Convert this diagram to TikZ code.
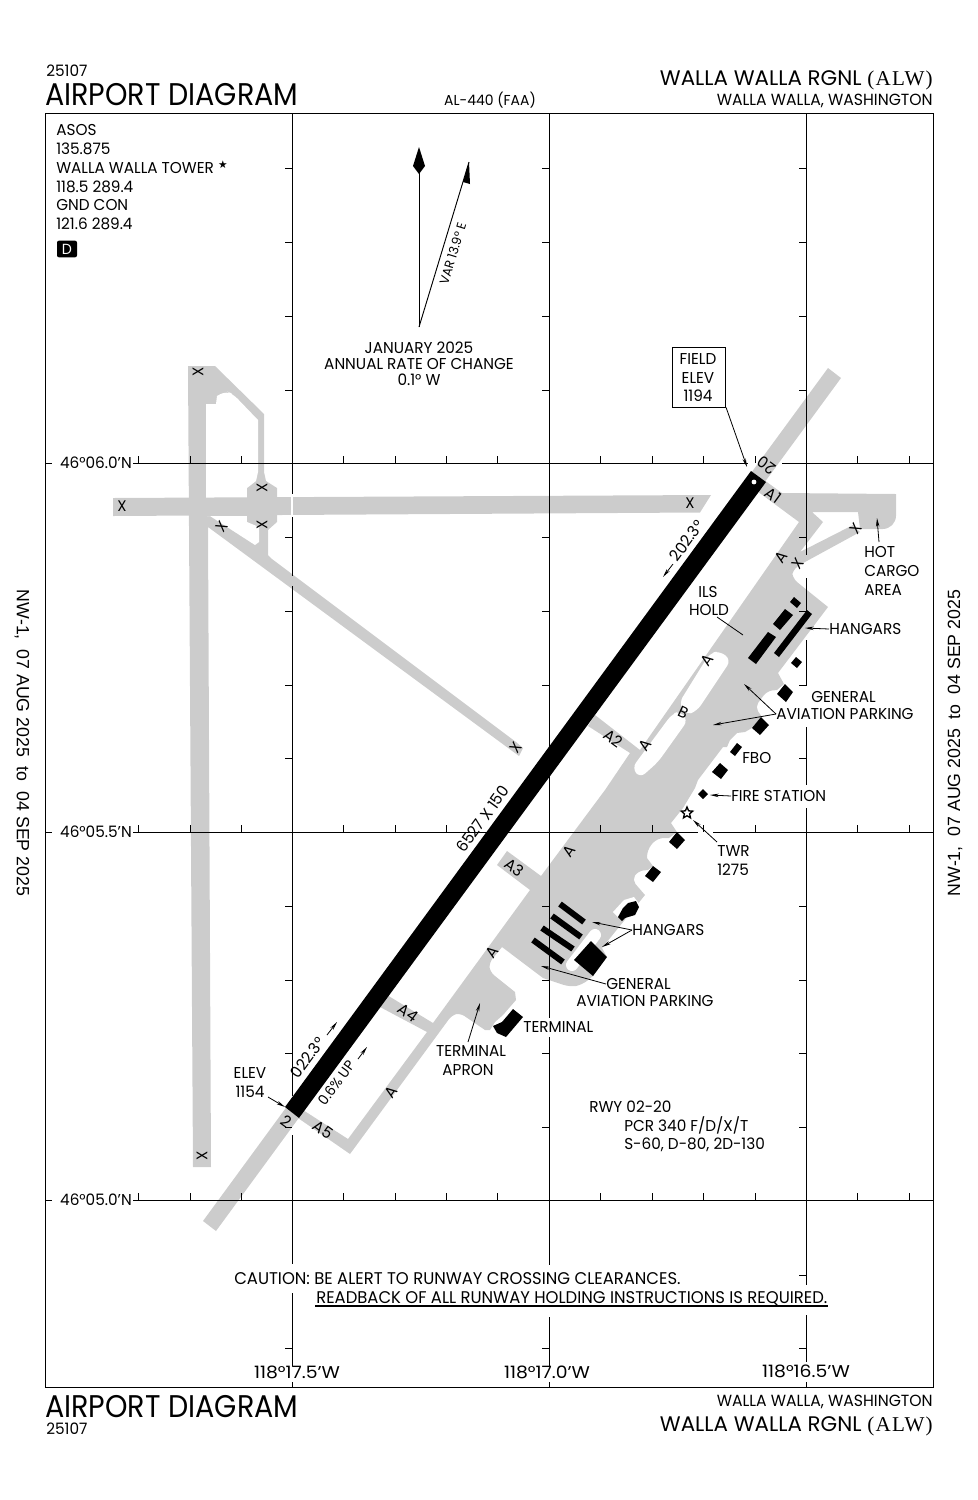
\documentclass[tikz,border=0pt]{standalone}
\usepackage{fontspec}
\usetikzlibrary{arrows.meta,shapes.geometric}
\setmainfont{Poppins}[FakeStretch=0.97]
\newfontfamily\titlefont{Poppins}[FakeStretch=0.912]
\newfontfamily\namefont{Poppins}[FakeStretch=1.015]
\newfontfamily\lonfont{Poppins}[FakeStretch=1.1]
\newfontfamily\serifalw{Liberation Serif}[LetterSpace=6]
\newfontfamily\sanslat{Liberation Sans}
\newfontfamily\dejavu{DejaVu Sans}
\definecolor{pave}{gray}{0.8}
\tikzset{
 gridline/.style={line width=0.75pt,black},
 tick/.style={line width=0.65pt,black},
 paved/.style={fill=pave,draw=none},
 bldg/.style={fill=black,draw=none},
 islet/.style={fill=white,draw=none,rounded corners=5pt},
 lab/.style={font=\fontsize{11.8}{13}\selectfont,inner sep=0pt,text height=8pt,text depth=0pt},
 citylab/.style={font=\fontsize{12.1}{13}\selectfont,inner sep=0pt,text height=8pt,text depth=0pt},
 lonlab/.style={font=\lonfont\fontsize{12.8}{14}\selectfont,inner sep=0pt,text height=8.6pt,text depth=0pt},
 cautionlab/.style={font=\fontsize{12.7}{14}\selectfont,inner sep=0pt,text height=9pt,text depth=0pt},
 small/.style={font=\fontsize{11.8}{13}\selectfont,inner sep=0pt,text height=8pt,text depth=0pt},
 title/.style={font=\titlefont\fontsize{23.5}{26}\selectfont,inner sep=0pt,text height=16.2pt,text depth=0pt},
 rwyname/.style={font=\namefont\fontsize{15.8}{18}\selectfont,inner sep=0pt,text height=11pt,text depth=0pt},
 xm/.style={font=\fontsize{11.5}{13}\selectfont,inner sep=0pt},
 leader/.style={line width=0.6pt,-{Stealth[length=6.5pt,width=2.6pt]}},
 plainleader/.style={line width=0.6pt},
 side/.style={font=\sanslat\fontsize{13.3}{15}\selectfont,inner sep=0pt},
}
\begin{document}
\begin{tikzpicture}[x=0.75pt,y=-0.75pt]
\useasboundingbox (0,0) rectangle (978,1500);
% ---------- paved surfaces
\fill[paved] (828,368) -- (841,378) -- (216,1231) -- (203,1221) -- cycle;
% west taxiway system
\fill[paved] (188,366) -- (215,366) -- (264,414) -- (264,472) -- (266,481) -- (277,488) -- (277,522) -- (268,530) -- (268,555) -- (272,559)
  -- (516,742) -- (523,748) -- (519,756) -- (208,527) -- (211,1167) -- (193,1167) -- cycle;
\fill[white] (206,404) -- (216,404) -- (217,396) [rounded corners=5pt] -- (226,391) -- (233,394) [sharp corners] -- (258,420) -- (258,472) -- (256,481) -- (247,488) -- (247,498) -- (206,498) -- cycle;
\fill[white] (207,516) -- (247,516) -- (247,522) -- (259,527) -- (259,542) -- (255,545) -- (210,516) -- cycle;
\fill[paved] (113,498) -- (711,495) -- (700,512.5) -- (113,516) -- cycle;
\fill[paved] (247,488) rectangle (277,522);
\fill[white] (291,494) rectangle (293,517);
% main apron and taxiways
\fill[paved] (764,480) -- (782,493) -- (896,494) [rounded corners=10pt] -- (896,529) [sharp corners] -- (860,529) -- (858,512) -- (812,512) -- (823,522)
 -- (800,552) -- (853,525) -- (860,532) -- (805,562) [rounded corners=5pt] -- (792,570) -- (792,578) [sharp corners] -- (828,607) -- (778,673)
 -- (784,684) -- (777,690) [rounded corners=4pt] -- (767,691) -- (755,707) [sharp corners] -- (762,717) -- (752,728) -- (745,732) -- (737,733) -- (730,740) -- (727,747)
 -- (723,747) -- (698,780) -- (695,788) -- (683,808) -- (671,823) -- (677,832) -- (669,838) [rounded corners=5pt] -- (657,838) -- (647,850) [sharp corners] -- (647,858) -- (653,866)
 -- (648,870) [rounded corners=4pt] -- (638,871) -- (632,880) [sharp corners] -- (645,895) -- (602,948) -- (607,957) -- (593,976) [rounded corners=5pt] -- (582,985) -- (570,987) [sharp corners]
 -- (543,978) -- (502,947) [rounded corners=4pt] -- (489,963) -- (490,972) [sharp corners] -- (515,992) -- (516,1000) -- (503,1015) -- (495,1022) -- (490,1030) -- (485,1030) [rounded corners=4pt] -- (460,1013) -- (452,1015) [sharp corners]
 -- (350,1154) -- (298,1118) -- (303,1110) -- (348,1139) -- (427,1032) -- (380,1007) -- (387,995) -- (433,1023) -- (530,890) -- (497,865) -- (507,851) -- (541,876)
 -- (605,790) -- (630,753) -- (588,726) -- (595,715) -- (640,750) -- (799,522) -- (757,491) -- cycle;
% white islands
\fill[islet] (710,653) -- (720,651) -- (731,660) -- (697,711) -- (686,715) -- (679,703) -- cycle;
\fill[islet] (672,714) -- (680,711) -- (688,720) -- (658,762) -- (640,778) -- (632,768) -- cycle;
\draw[white,line width=9pt,line cap=round] (572,965) -- (595,935);
\fill[white] (613,912) -- (624,900) -- (634,897) -- (640,905) -- (622,921) -- cycle;
% ---------- graticule
\draw[gridline] (45,113) rectangle (933,1387);
\draw[gridline] (292,113) -- (292,494) (292,517) -- (292,576) (292,586) -- (292,1096) (292,1135) -- (292,1264) (292,1293) -- (292,1366) (292,1382) -- (292,1387);
\draw[gridline] (549,113) -- (549,1018) (549,1037) -- (549,1265) (549,1317) -- (549,1366) (549,1382) -- (549,1387);
\draw[gridline] (806,113) -- (806,555) (806,578) -- (806,617) (806,640) -- (806,686) (806,727) -- (806,785) (806,808) -- (806,1285) (806,1315) -- (806,1362) (806,1382) -- (806,1387);
\draw[gridline] (45,463) -- (52,463) (133,463) -- (748,463) (782,463) -- (933,463);
\draw[gridline] (45,832) -- (52,832) (133,832) -- (698,832) (713,832) -- (933,832);
\draw[gridline] (45,1200) -- (52,1200) (133,1200) -- (933,1200);
\foreach \gx in {292,549,806}
  \foreach \gy in {168,242,316,390,537,611,685,758,906,980,1053,1127,1348}
    \draw[tick] (\gx-7,\gy) -- (\gx,\gy);
\draw[tick] (799,1275) -- (806,1275);
\foreach \gy in {463,832,1200}
  \foreach \gx in {138,190,241,343,395,446,497,600,652,703,755,857,909}
    \draw[tick] (\gx,\gy-7) -- (\gx,\gy);
% ---------- runway
\fill[black] (751,471) -- (766,482) -- (299,1118) -- (285,1107) -- cycle;
\fill[white] (754,482) circle[radius=2.4];
% ---------- buildings
\fill[bldg] (794,597) -- (801,603) -- (797,608) -- (790,602) -- cycle;
\fill[bldg] (785,609) -- (793,615) -- (780,630) -- (773,624) -- cycle;
\fill[bldg] (807,610) -- (812,614) -- (779,657) -- (774,653) -- cycle;
\fill[bldg] (768,632) -- (776,637) -- (756,664) -- (748,658) -- cycle;
\fill[bldg] (796,657) -- (802,662) -- (797,668) -- (791,663) -- cycle;
\fill[bldg] (785,684) -- (793,692) -- (786,702) -- (777,694) -- cycle;
\fill[bldg] (761,717) -- (769,725) -- (760,735) -- (752,728) -- cycle;
\fill[bldg] (737,743) -- (742,747) -- (735,756) -- (730,752) -- cycle;
\fill[bldg] (720,763) -- (728,770) -- (721,779) -- (712,772) -- cycle;
\fill[bldg] (703,789) -- (708,794) -- (703,799) -- (698,794) -- cycle;
\fill[bldg] (677,832) -- (685,840) -- (677,849) -- (669,842) -- cycle;
\fill[bldg] (653,866) -- (661,872) -- (653,882) -- (645,876) -- cycle;
\fill[bldg] (636,901) -- (639,907) -- (635,915) -- (625,918) -- (622,921) -- (618,917) -- (623,908) -- (628,903) -- cycle;
\draw[black,line width=4.5pt] (560,904) -- (584,922) (552,916) -- (581,937) (542,928) -- (573,949) (533,940) -- (563,962);
\fill[bldg] (591,941) -- (607,957) -- (593,976) -- (574,960) -- cycle;
\fill[bldg] (513,1009) -- (523,1017) -- (506,1037) -- (497,1033) -- (493,1026) -- (502,1022) -- (508,1015) -- cycle;
% ---------- closed marks
\foreach \n/\x/\y/\r in {a/198/372/90,b/122/506/0,c/262/488/90,d/262/525/90,e/222/527/54,f/516/748/54,g/690/503/0,h/798/564/54,i/856/529/54,j/202/1156/90}
  \node[xm,rotate=\r] (x\n) at (\x,\y) {X};
% ---------- header and footer
\node[lab,anchor=west] (num1) at (46,71) {25107};
\node[title,anchor=west] (tit1) at (45,95) {AIRPORT DIAGRAM};
\node[lab,font=\fontsize{10.8}{12}\selectfont] (al) at (490,100) {AL-440 (FAA)};
\node[rwyname,anchor=east] (apt1) at (933,78) {WALLA WALLA RGNL {\serifalw(ALW)}};
\node[citylab,anchor=east] (city1) at (933,100) {WALLA WALLA, WASHINGTON};
\node[title,anchor=west] (tit2) at (45,1407) {AIRPORT DIAGRAM};
\node[lab,anchor=west] (num2) at (46,1429) {25107};
\node[citylab,anchor=east] (city2) at (933,1401) {WALLA WALLA, WASHINGTON};
\node[rwyname,anchor=east] (apt2) at (933,1424) {WALLA WALLA RGNL {\serifalw(ALW)}};
\node[side,rotate=-90] (sidel) at (22,743) {NW-1,\ \ 07 AUG 2025\ \ to\ \ 04 SEP 2025};
\node[side,rotate=90] (sider) at (955,743) {NW-1,\ \ 07 AUG 2025\ \ to\ \ 04 SEP 2025};
% ---------- communications
\node[lab,anchor=west] (f1) at (56,130) {ASOS};
\node[lab,anchor=west] (f2) at (56,149) {135.875};
\node[lab,anchor=west] (f3) at (56,168) {WALLA WALLA TOWER};
\node[inner sep=0pt,font=\dejavu\fontsize{8}{9}\selectfont] (f3s) at (223,165) {★};
\node[lab,anchor=west] (f4) at (56,187) {118.5 289.4};
\node[lab,anchor=west] (f5) at (56,205) {GND CON};
\node[lab,anchor=west] (f6) at (56,224) {121.6 289.4};
\node[fill=black,text=white,rounded corners=1.5pt,minimum width=15pt,minimum height=12.5pt,inner sep=0pt,font=\fontsize{11}{12}\selectfont] (dbox) at (67,249) {D};
% ---------- magnetic variation
\coordinate (nbase) at (419,327);
\coordinate (ntop) at (419,150);
\coordinate (vtip) at (469,162);
\draw[line width=0.7pt] (nbase) -- (ntop);
\fill[black] (419,147) -- (425,166) -- (419,174) -- (413,166) -- cycle;
\draw[line width=0.7pt] (nbase) -- (vtip);
\fill[black] (vtip) -- (470,184) -- (463,182) -- cycle;
\node[font=\fontsize{9.6}{11}\selectfont,inner sep=0pt,text height=6.6pt,text depth=0pt,rotate=73] (var) at (453,254) {VAR 13.9° E};
\node[lab] (m1) at (419,348) {JANUARY 2025};
\node[lab] (m2) at (419,364) {ANNUAL RATE OF CHANGE};
\node[lab] (m3) at (419,380) {0.1° W};
% ---------- graticule labels
\node[lab,anchor=east] (lat1) at (132,463) {46°06.0’N};
\node[lab,anchor=east] (lat2) at (132,832) {46°05.5’N};
\node[lab,anchor=east] (lat3) at (132,1200) {46°05.0’N};
\node[lonlab] (lon1) at (297,1373) {118°17.5’W};
\node[lonlab] (lon2) at (547,1373) {118°17.0’W};
\node[lonlab] (lon3) at (806,1372) {118°16.5’W};
% ---------- runway labels
\node[lab,rotate=54] (len) at (483,819) {6527 X 150};
\node[lab,rotate=144] (r20) at (767,465) {20};
\node[lab,rotate=-36] (r2) at (286,1122) {2};
\node[lab,rotate=54] (h202) at (687,541) {202.3°};
\coordinate (h202t) at (663,577);\coordinate (h202f) at (673,564);
\draw[leader] (h202f) -- (h202t);
\node[lab,rotate=54] (h022) at (308,1058) {022.3°};
\coordinate (h022t) at (337,1022);\coordinate (h022f) at (327,1035);
\draw[leader] (h022f) -- (h022t);
\node[lab,font=\fontsize{10.6}{12}\selectfont,rotate=54] (grad) at (336,1083) {0.6\% UP};
\coordinate (gradt) at (367,1047);\coordinate (gradf) at (358,1059);
\draw[leader] (gradf) -- (gradt);
% ---------- taxiway labels
\node[small,rotate=54] (ta1) at (781,557) {A};
\node[small,rotate=54] (ta2) at (707,660) {A};
\node[small,rotate=54] (ta3) at (645,745) {A};
\node[small,rotate=54] (ta4) at (569,851) {A};
\node[small,rotate=54] (ta5) at (492,952) {A};
\node[small,rotate=54] (ta6) at (391,1092) {A};
\node[small,rotate=-25] (tb) at (683,713) {B};
\node[small,rotate=-36] (ta1x) at (773,496) {A1};
\node[small,rotate=-36] (ta2x) at (613,739) {A2};
\node[small,rotate=-36] (ta3x) at (514,868) {A3};
\node[small,rotate=-36] (ta4x) at (408,1013) {A4};
\node[small,rotate=-36] (ta5x) at (323,1130) {A5};
% ---------- field elevation
\node[draw,line width=0.6pt,minimum width=40pt,minimum height=45pt,inner sep=0pt] (fe) at (699,377) {};
\node[lab] (fe1) at (698,359) {FIELD};
\node[lab] (fe2) at (698,378) {ELEV};
\node[lab] (fe3) at (698,396) {1194};
\coordinate (fet) at (747,467);
\draw[leader] (fe.south east) -- (fet);
\node[lab] (el1) at (250,1073) {ELEV};
\node[lab] (el2) at (250,1092) {1154};
\coordinate (elf) at (268,1097);\coordinate (elt) at (285,1107);
\draw[leader] (elf) -- (elt);
% ---------- callouts
\node[lab,anchor=west] (hc1) at (864,552) {HOT};
\node[lab,anchor=west] (hc2) at (864,571) {CARGO};
\node[lab,anchor=west] (hc3) at (864,590) {AREA};
\coordinate (hcf) at (879,542);\coordinate (hct) at (877,518);
\draw[leader] (hcf) -- (hct);
\node[lab,anchor=west] (hg1) at (829,629) {HANGARS};
\coordinate (hg1t) at (805,628);
\draw[leader] (hg1.west) -- (hg1t);
\node[lab] (il1) at (708,592) {ILS};
\node[lab] (il2) at (709,610) {HOLD};
\coordinate (il1a) at (717,617);\coordinate (il1b) at (743,635);
\draw[plainleader] (il1a) -- (il1b);
\node[lab,anchor=west] (ga1) at (811,697) {GENERAL};
\node[lab,anchor=west] (ga2) at (776,714) {AVIATION PARKING};
\coordinate (ga2a) at (744,684);\coordinate (ga2b) at (713,725);
\draw[leader] (ga2.west) -- (ga2a);
\draw[leader] (ga2.west) -- (ga2b);
\node[lab,anchor=west] (fbo) at (742,758) {FBO};
\node[lab,anchor=west] (fs) at (731,796) {FIRE STATION};
\coordinate (fst) at (710,795);
\draw[leader] (fs.west) -- (fst);
\node[star,star points=5,star point ratio=2.2,draw=black,fill=white,line width=1pt,inner sep=0pt,minimum size=9pt] (twr) at (687,813) {};
\node[lab,anchor=west] (tw1) at (717,851) {TWR};
\node[lab,anchor=west] (tw2) at (717,870) {1275};
\coordinate (twf) at (717,842);\coordinate (twt) at (693,820);
\draw[leader] (twf) -- (twt);
\node[lab,anchor=west] (hg2) at (632,930) {HANGARS};
\coordinate (hg2a) at (592,922);\coordinate (hg2b) at (602,947);
\draw[leader] (hg2.west) -- (hg2a);
\draw[leader] (hg2.west) -- (hg2b);
\node[lab,anchor=west] (gb1) at (606,984) {GENERAL};
\node[lab,anchor=west] (gb2) at (576,1001) {AVIATION PARKING};
\coordinate (gbt) at (541,966);
\draw[leader] (gb1.west) -- (gbt);
\node[lab,anchor=west] (term) at (523,1027) {TERMINAL};
\node[lab] (ap1) at (471,1051) {TERMINAL};
\node[lab] (ap2) at (468,1070) {APRON};
\coordinate (apf) at (468,1042);\coordinate (apt) at (480,1003);
\draw[leader] (apf) -- (apt);
% ---------- runway data and caution
\node[lab,anchor=west] (rd1) at (589,1107) {RWY 02-20};
\node[lab,anchor=west] (rd2) at (624,1126) {PCR 340 F/D/X/T};
\node[lab,anchor=west] (rd3) at (624,1144) {S-60, D-80, 2D-130};
\node[cautionlab,anchor=west] (ca1) at (234,1278) {CAUTION: BE ALERT TO RUNWAY CROSSING CLEARANCES.};
\node[cautionlab,anchor=west] (ca2) at (316,1297) {READBACK OF ALL RUNWAY HOLDING INSTRUCTIONS IS REQUIRED.};
\coordinate (ula) at (315,1306);\coordinate (ulb) at (828,1306);
\draw[line width=0.9pt] (ula) -- (ulb);
\end{tikzpicture}
\end{document}
